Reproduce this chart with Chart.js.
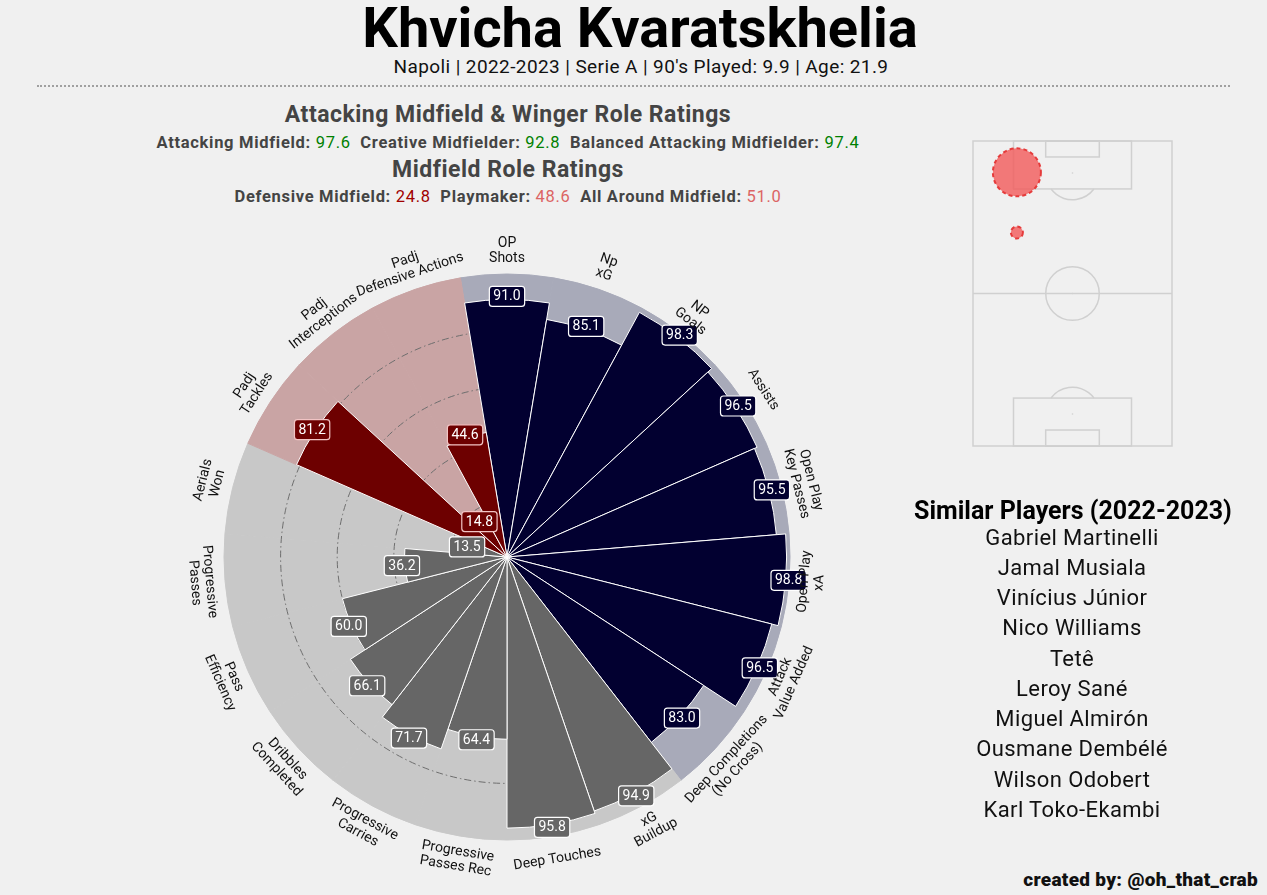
<!DOCTYPE html>
<html>
<head>
<meta charset="utf-8">
<script src="https://cdn.jsdelivr.net/npm/chart.js@4"></script>
<style>
  body { margin: 0; background: #f0f0f0; font-family: Roboto, sans-serif; }
  #page { position: relative; width: 1267px; height: 895px; overflow: hidden; background: #f0f0f0; }
  .t { position: absolute; text-align: center; white-space: nowrap; }
  .lbl { font-weight: 700; color: #444; }
  .g { color: #008000; font-weight: 400; }
  .dr { color: #a00000; font-weight: 400; }
  .lr { color: #dc6464; font-weight: 400; }
  #pizza { position: absolute; left: 167px; top: 217px; }
  #pitch { position: absolute; left: 963px; top: 131px; }
</style>
</head>
<body>
<div id="page">
  <div class="t" style="left:240px;width:800px;top:0px;font:700 56px/56px Roboto;color:#000">Khvicha Kvaratskhelia</div>
  <div class="t" style="left:241px;width:800px;top:57px;font:400 19px/19px Roboto;letter-spacing:0.4px;color:#111">Napoli | 2022-2023 | Serie A | 90's Played: 9.9 | Age: 21.9</div>
  <div style="position:absolute;left:37px;width:1193px;top:85px;border-top:2px dotted #a0a0a0"></div>

  <div class="t lbl" style="left:108px;width:800px;top:103px;font-size:23px;line-height:23px;letter-spacing:0.5px">Attacking Midfield &amp; Winger Role Ratings</div>
  <div class="t lbl" style="left:108px;width:800px;top:134px;font-size:16.5px;line-height:17px;letter-spacing:0.7px">Attacking Midfield: <span class="g">97.6</span>&nbsp; Creative Midfielder: <span class="g">92.8</span>&nbsp; Balanced Attacking Midfielder: <span class="g">97.4</span></div>
  <div class="t lbl" style="left:108px;width:800px;top:158px;font-size:23px;line-height:23px;letter-spacing:0.5px">Midfield Role Ratings</div>
  <div class="t lbl" style="left:108px;width:800px;top:188px;font-size:16.5px;line-height:17px;letter-spacing:0.7px">Defensive Midfield: <span class="dr">24.8</span>&nbsp; Playmaker: <span class="lr">48.6</span>&nbsp; All Around Midfield: <span class="lr">51.0</span></div>

  <canvas id="pizza" width="680" height="680"></canvas>
  <canvas id="pitch" width="219" height="325"></canvas>

  <div id="similar"></div>
  <div class="t" style="right:9px;top:870px;font:900 19px/19px Roboto;letter-spacing:0.3px;color:#111">created by: @oh_that_crab</div>
</div>

<script>
'use strict';

// ---- data ----
const metrics = [
  'OP\nShots', 'Np\nxG', 'NP\nGoals', 'Assists', 'Open Play\nKey Passes', 'Open Play\nxA',
  'Attack\nValue Added', 'Deep Completions\n(No Cross)', 'xG\nBuildup', 'Deep Touches',
  'Progressive\nPasses Rec', 'Progressive\nCarries', 'Dribbles\nCompleted', 'Pass\nEfficiency',
  'Progressive\nPasses', 'Aerials\nWon', 'Padj\nTackles', 'Padj\nInterceptions', 'Padj\nDefensive Actions'
];
const percentiles = [91.0, 85.1, 98.3, 96.5, 95.5, 98.8, 96.5, 83.0, 94.9, 95.8,
                     64.4, 71.7, 66.1, 60.0, 36.2, 13.5, 81.2, 14.8, 44.6];
const metricGroup = ['att', 'att', 'att', 'att', 'att', 'att', 'att', 'att',
                     'pos', 'pos', 'pos', 'pos', 'pos', 'pos', 'pos', 'pos',
                     'def', 'def', 'def'];
const gridTicks = [20, 40, 60, 80];

const similarPlayers = ['Gabriel Martinelli', 'Jamal Musiala', 'Vinícius Júnior', 'Nico Williams', 'Tetê',
                        'Leroy Sané', 'Miguel Almirón', 'Ousmane Dembélé', 'Wilson Odobert', 'Karl Toko-Ekambi'];

// pitch positions (metres, 68 x 105, y from own goal line) and bubble radius
const zoneX = [15.0, 15.0];
const zoneY = [94.2, 73.5];
const zoneR = [24, 6];

// ---- colours ----
const barColor = { att: '#020030', pos: '#666666', def: '#6d0000' };
const bgColor = { att: '#a8aab9', pos: '#c8c8c8', def: '#c9a4a4' };
const boxEdge = { att: '#ffffff', pos: '#ffffff', def: '#f2c4c4' };

// similar players list
let sim = document.getElementById('similar');
let html = '<div class="t" style="left:673px;width:800px;top:498px;font:700 25px/25px Roboto;color:#000">Similar Players (2022-2023)</div>';
for (let i = 0; i < similarPlayers.length; i++) {
  let top = 526.5 + i * 30.25;
  html += '<div class="t" style="left:672px;width:800px;top:' + top + 'px;font:400 22px/22px Roboto;letter-spacing:0.4px;color:#111">' + similarPlayers[i] + '</div>';
}
sim.innerHTML = html;

// dashed rings between the background slices and the bars
const ringPlugin = {
  id: 'rings',
  afterDatasetDraw(chart, args) {
    if (args.index !== 1) return;
    let scale = chart.scales.r;
    let ctx = chart.ctx;
    ctx.save();
    ctx.strokeStyle = '#6e6e6e';
    ctx.lineWidth = 1;
    ctx.setLineDash([7, 3, 1.5, 3]);
    for (let t of gridTicks) {
      ctx.beginPath();
      ctx.arc(scale.xCenter, scale.yCenter, scale.getDistanceFromCenterForValue(t), 0, Math.PI * 2);
      ctx.stroke();
    }
    ctx.restore();
  }
};

// value boxes + rotated category labels
const labelPlugin = {
  id: 'pizzaLabels',
  afterDraw(chart) {
    let scale = chart.scales.r;
    let ctx = chart.ctx;
    let n = metrics.length;
    let step = Math.PI * 2 / n;
    ctx.save();
    for (let i = 0; i < n; i++) {
      let theta = scale.getIndexAngle(i) + step / 2;
      let g = metricGroup[i];

      // value box
      let d = scale.getDistanceFromCenterForValue(percentiles[i]) + 3;
      let x = scale.xCenter + d * Math.sin(theta);
      let y = scale.yCenter - d * Math.cos(theta);
      ctx.font = '14px Roboto';
      let txt = percentiles[i].toFixed(1);
      let w = ctx.measureText(txt).width + 8, h = 20;
      ctx.beginPath();
      ctx.roundRect(x - w / 2, y - h / 2, w, h, 3);
      ctx.fillStyle = barColor[g];
      ctx.fill();
      ctx.lineWidth = 1.2;
      ctx.strokeStyle = boxEdge[g];
      ctx.stroke();
      ctx.fillStyle = '#ffffff';
      ctx.textAlign = 'center';
      ctx.textBaseline = 'middle';
      ctx.fillText(txt, x, y + 0.5);

      // category label
      let r = scale.drawingArea + 23;
      let lx = scale.xCenter + r * Math.sin(theta);
      let ly = scale.yCenter - r * Math.cos(theta);
      let deg = theta * 180 / Math.PI;
      if (deg > 180) deg -= 360;
      let rot = Math.abs(deg) <= 90 ? deg : (deg > 0 ? deg - 180 : deg + 180);
      let lines = metrics[i].split('\n');
      ctx.save();
      ctx.translate(lx, ly);
      ctx.rotate(rot * Math.PI / 180);
      ctx.font = '14px Roboto';
      ctx.fillStyle = '#111111';
      for (let j = 0; j < lines.length; j++) {
        ctx.fillText(lines[j], 0, (j - (lines.length - 1) / 2) * 15);
      }
      ctx.restore();
    }
    ctx.restore();
  }
};

new Chart(document.getElementById('pizza'), {
  type: 'polarArea',
  data: {
    labels: metrics,
    datasets: [{
      data: percentiles,
      backgroundColor: metricGroup.map(g => barColor[g]),
      borderColor: '#ffffff',
      borderWidth: 1,
      order: 0
    }, {
      data: metrics.map(() => 100),
      backgroundColor: metricGroup.map(g => bgColor[g]),
      borderColor: metricGroup.map(g => bgColor[g]),
      borderWidth: 1,
      order: 1
    }]
  },
  options: {
    responsive: false,
    animation: false,
    layout: { padding: 57 },
    plugins: { legend: { display: false }, tooltip: { enabled: false } },
    scales: {
      r: {
        min: 0,
        max: 100,
        startAngle: -180 / metrics.length,
        ticks: { display: false },
        grid: { display: false },
        angleLines: { display: false },
        pointLabels: { display: false }
      }
    }
  },
  plugins: [ringPlugin, labelPlugin]
});

// ---- pitch ----
const pitchPlugin = {
  id: 'pitchLines',
  beforeDatasetsDraw(chart) {
    let ctx = chart.ctx;
    let xs = chart.scales.x, ys = chart.scales.y;
    let px = v => xs.getPixelForValue(v);
    let py = v => ys.getPixelForValue(v);
    let unit = px(1) - px(0);
    ctx.save();
    ctx.strokeStyle = '#d0d0d0';
    ctx.lineWidth = 1.5;
    let rect = (x0, y0, x1, y1) => {
      ctx.strokeRect(px(x0), py(y1), px(x1) - px(x0), py(y0) - py(y1));
    };
    rect(0, 0, 68, 105);
    ctx.beginPath(); ctx.moveTo(px(0), py(52.5)); ctx.lineTo(px(68), py(52.5)); ctx.stroke();
    ctx.beginPath(); ctx.arc(px(34), py(52.5), 9.15 * unit, 0, Math.PI * 2); ctx.stroke();
    rect(13.84, 0, 54.16, 16.5);
    rect(13.84, 88.5, 54.16, 105);
    rect(24.84, 0, 43.16, 5.5);
    rect(24.84, 99.5, 43.16, 105);
    let a = Math.acos(5.5 / 9.15);
    ctx.beginPath(); ctx.arc(px(34), py(11), 9.15 * unit, -Math.PI / 2 - a, -Math.PI / 2 + a); ctx.stroke();
    ctx.beginPath(); ctx.arc(px(34), py(94), 9.15 * unit, Math.PI / 2 - a, Math.PI / 2 + a); ctx.stroke();
    ctx.fillStyle = '#d0d0d0';
    for (let s of [11, 52.5, 94]) {
      ctx.beginPath(); ctx.arc(px(34), py(s), 0.8, 0, Math.PI * 2); ctx.fill();
    }
    ctx.restore();
  },
  beforeDatasetDraw(chart) {
    chart.ctx.save();
    chart.ctx.setLineDash([4, 3]);
  },
  afterDatasetDraw(chart) {
    chart.ctx.restore();
  }
};

new Chart(document.getElementById('pitch'), {
  type: 'bubble',
  data: {
    datasets: [{
      data: zoneX.map((x, i) => ({ x: x, y: zoneY[i], r: zoneR[i] })),
      backgroundColor: 'rgba(242, 90, 90, 0.8)',
      borderColor: '#e53b3b',
      borderWidth: 2,
      clip: false
    }]
  },
  options: {
    responsive: false,
    animation: false,
    layout: { padding: 10, autoPadding: false },
    plugins: { legend: { display: false }, tooltip: { enabled: false } },
    scales: {
      x: { display: false, min: 0, max: 68 },
      y: { display: false, min: 0, max: 105 }
    }
  },
  plugins: [pitchPlugin]
});
</script>
</body>
</html>
